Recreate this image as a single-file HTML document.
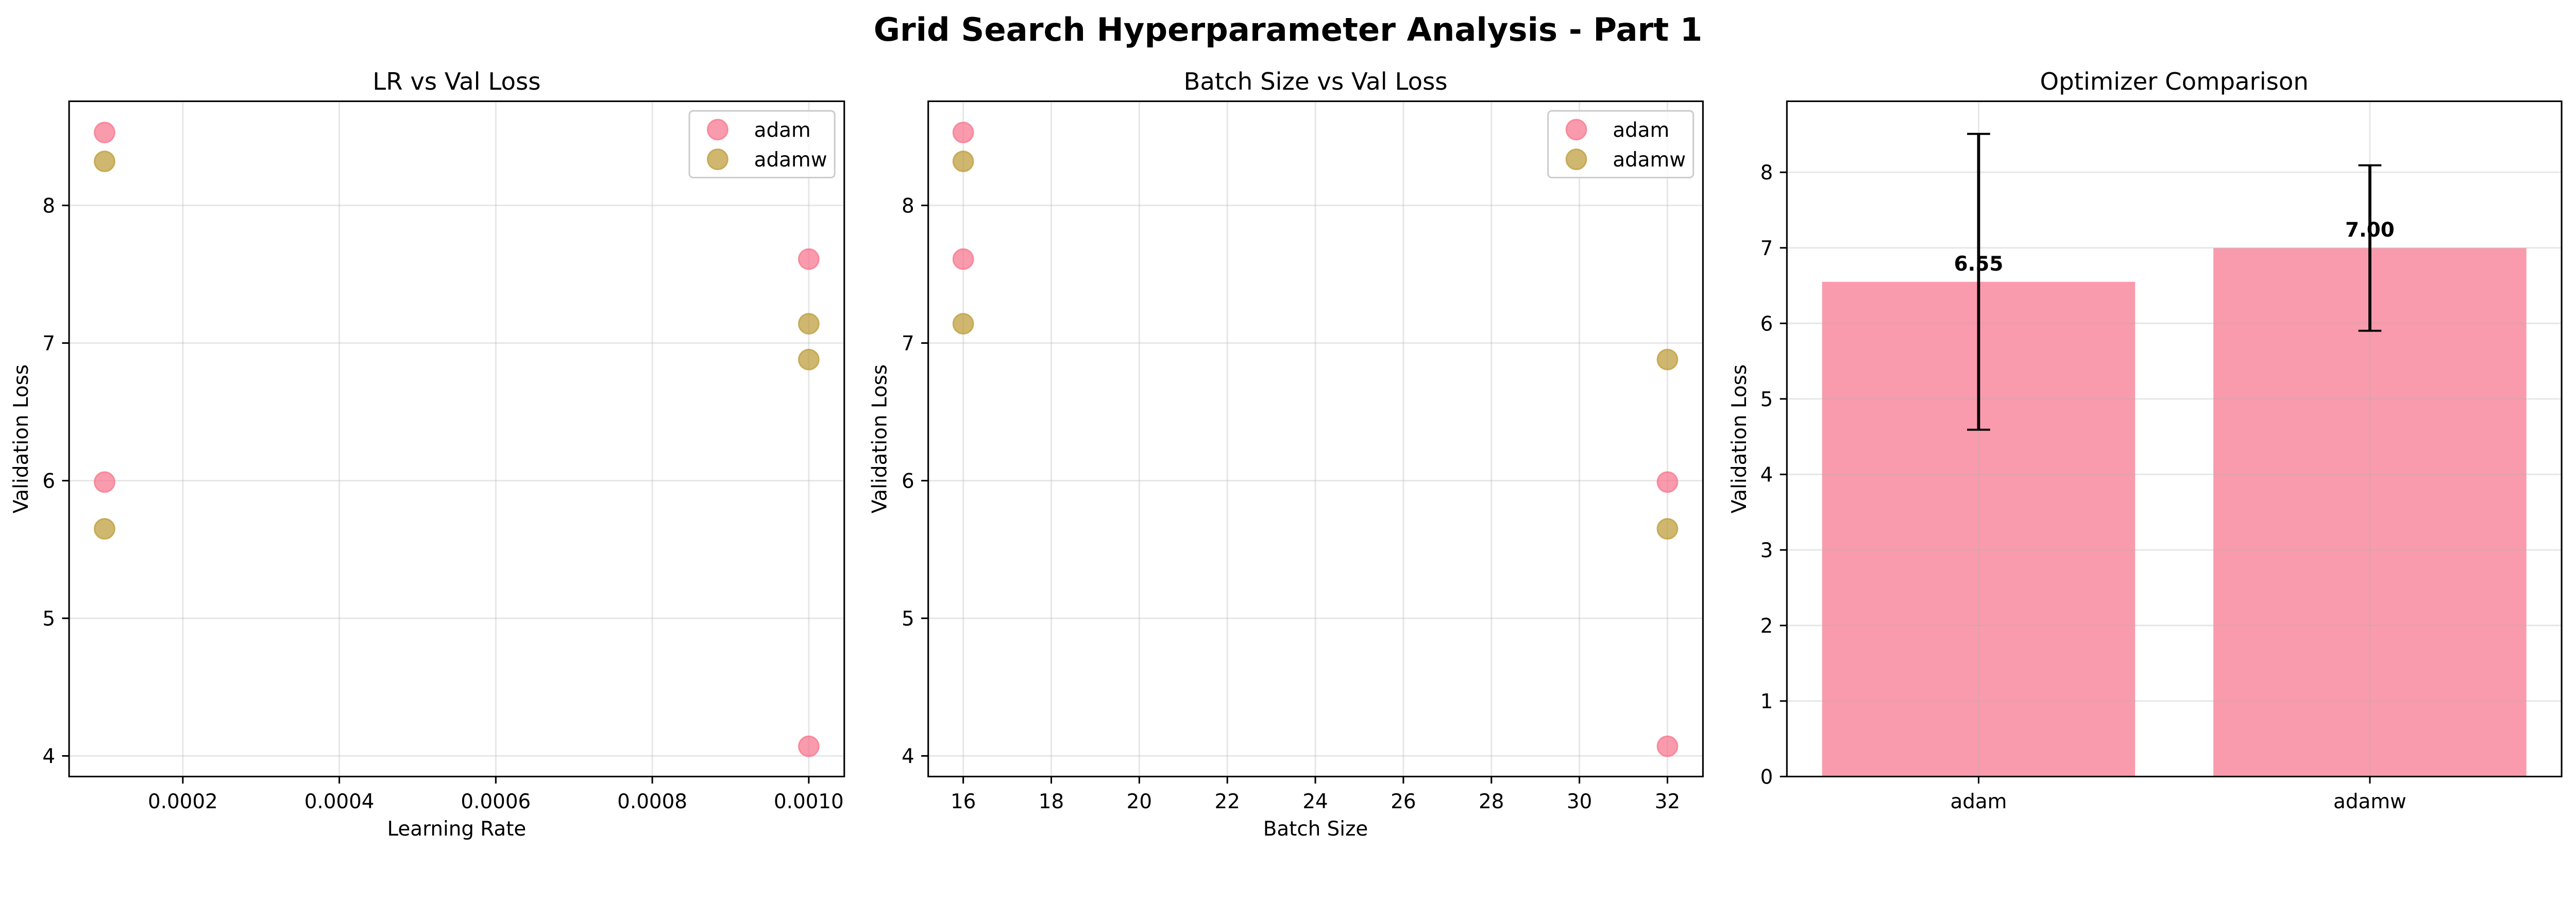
<!DOCTYPE html>
<html><head><meta charset="utf-8"><style>
html,body{margin:0;padding:0;background:#fff;width:100%;overflow:hidden;}
svg{display:block;width:100vw;height:auto;font-family:"DejaVu Sans","Liberation Sans",sans-serif;}
</style></head><body>
<svg id="fig" viewBox="0 0 5370 1779" preserveAspectRatio="xMidYMin meet" xmlns="http://www.w3.org/2000/svg">
<rect width="5370" height="1779" fill="#fff"/>
<text x="2685" y="85" font-size="67" font-weight="bold" text-anchor="middle">Grid Search Hyperparameter Analysis - Part 1</text>
</svg>
<script>
const optimizers = ["adam","adamw"];
const adamLR = [0.0001, 0.001, 0.0001, 0.001];
const adamBS = [16, 16, 32, 32];
const adamLoss = [8.53, 7.61, 5.99, 4.07];
const adamwLR = [0.0001, 0.001, 0.001, 0.0001];
const adamwBS = [16, 16, 32, 32];
const adamwLoss = [8.32, 7.14, 6.88, 5.65];
const lrTicks = [0.0002, 0.0004, 0.0006, 0.0008, 0.0010];
const lrTickLabels = ["0.0002","0.0004","0.0006","0.0008","0.0010"];
const bsTicks = [16,18,20,22,24,26,28,30,32];
const lossTicks = [4,5,6,7,8];
const barTicks = [0,1,2,3,4,5,6,7,8];

const NS="http://www.w3.org/2000/svg";
const svg=document.getElementById('fig');
function mk(tag,attrs,parent,text){const e=document.createElementNS(NS,tag);for(const k in attrs)e.setAttribute(k,attrs[k]);if(text!==undefined)e.textContent=text;(parent||svg).appendChild(e);return e;}
const colors={adam:"#f77189",adamw:"#bb9832"};
const TOP=211,BOT=1618;

function scaleLin(d0,d1,r0,r1){return v=>r0+(v-d0)/(d1-d0)*(r1-r0);}

function axesFrame(g,L,R,name){
  const s=mk('rect',{x:L,y:TOP,width:R-L,height:BOT-TOP,fill:'none',stroke:'#000','stroke-width':3.3},g);
  
  
}
function yAxis(g,L,R,sy,ticks,labels){
  ticks.forEach((t,i)=>{const y=sy(t);
    const gl=mk('line',{x1:L,x2:R,y1:y,y2:y,stroke:'#b0b0b0','stroke-opacity':0.3,'stroke-width':3.3},g);
    
    
    mk('line',{x1:L-14.6,x2:L,y1:y,y2:y,stroke:'#000','stroke-width':3.3},g);
    const tl=mk('text',{x:L-29,y:y+15,'font-size':41.7,'text-anchor':'end'},g,labels?labels[i]:String(t));
    
    
  });
}
function xAxis(g,sx,ticks,labels){
  ticks.forEach((t,i)=>{const x=sx(t);
    const gl=mk('line',{x1:x,x2:x,y1:TOP,y2:BOT,stroke:'#b0b0b0','stroke-opacity':0.3,'stroke-width':3.3},g);
    
    
    mk('line',{x1:x,x2:x,y1:BOT,y2:BOT+14.6,stroke:'#000','stroke-width':3.3},g);
    const tl=mk('text',{x:x,y:1684,'font-size':41.7,'text-anchor':'middle'},g,labels?labels[i]:String(t));
    
    
  });
}
function labels(g,L,R,title,xl,ylx){
  const t=mk('text',{x:(L+R)/2,y:187,'font-size':50,'text-anchor':'middle'},g,title);
  
  
  if(xl){const x=mk('text',{x:(L+R)/2,y:1741,'font-size':41.7,'text-anchor':'middle'},g,xl);
    
    }
  const y=mk('text',{x:0,y:0,'font-size':41.7,'text-anchor':'middle',transform:`translate(${ylx},${(TOP+BOT)/2}) rotate(-90)`},g,'Validation Loss');
  
  
}
function points(g,sx,sy,xs,ys,opt){
  xs.forEach((xv,i)=>{
    const c=mk('circle',{cx:sx(xv),cy:sy(ys[i]),r:21,fill:colors[opt],'fill-opacity':0.7,stroke:colors[opt],'stroke-opacity':0.7,'stroke-width':3},g);
    
    
  });
}
function legend(g,R){
  const x0=R-323;
  const box=mk('rect',{x:x0,y:231,width:303,height:139,rx:8,fill:'#fff','fill-opacity':0.8,stroke:'#cccccc','stroke-width':3.3},g);
  
  
  optimizers.forEach((o,i)=>{
    const y=270+i*62;
    const m=mk('circle',{cx:x0+59,cy:y,r:21,fill:colors[o],'fill-opacity':0.7,stroke:colors[o],'stroke-opacity':0.7,'stroke-width':3},g);
    
    
    const t=mk('text',{x:x0+135,y:y+15,'font-size':41.7},g,o);
    
    
  });
}
const syLoss=scaleLin(4,8,1575,428);

// Panel 1
{const g=mk('g',{});
 const L=144,R=1760;const sx=scaleLin(0.0001,0.001,218,1686);
 yAxis(g,L,R,syLoss,lossTicks);xAxis(g,sx,lrTicks,lrTickLabels);
 points(g,sx,syLoss,adamLR,adamLoss,'adam');points(g,sx,syLoss,adamwLR,adamwLoss,'adamw');
 axesFrame(g,L,R,'lr-panel');legend(g,R);labels(g,L,R,'LR vs Val Loss','Learning Rate',58);}
// Panel 2
{const g=mk('g',{});
 const L=1935,R=3550;const sx=scaleLin(16,32,2008,3476);
 yAxis(g,L,R,syLoss,lossTicks);xAxis(g,sx,bsTicks);
 points(g,sx,syLoss,adamBS,adamLoss,'adam');points(g,sx,syLoss,adamwBS,adamwLoss,'adamw');
 axesFrame(g,L,R,'bs-panel');legend(g,R);labels(g,L,R,'Batch Size vs Val Loss','Batch Size',1848);}
// Panel 3
{const g=mk('g',{});
 const L=3725,R=5340;const sx=scaleLin(-0.49,1.49,L,R);const sy=scaleLin(0,8,1618,359);
 const sets=[adamLoss,adamwLoss];
 const means=sets.map(a=>a.reduce((s,v)=>s+v,0)/a.length);
 const stds=sets.map((a,i)=>Math.sqrt(a.reduce((s,v)=>s+(v-means[i])**2,0)/(a.length-1)));
 optimizers.forEach((o,i)=>{
  const b=mk('rect',{x:sx(i-0.4),y:sy(means[i]),width:sx(i+0.4)-sx(i-0.4),height:sy(0)-sy(means[i]),fill:'#f77189','fill-opacity':0.7},g);
  
  
 });
 yAxis(g,L,R,sy,barTicks);
 xAxis(g,sx,[0,1],optimizers);
 optimizers.forEach((o,i)=>{
  const x=sx(i),y1=sy(means[i]+stds[i]),y2=sy(means[i]-stds[i]);
  const e=mk('g',{},g);
  
  
  mk('line',{x1:x,x2:x,y1:y1,y2:y2,stroke:'#000','stroke-width':6.2},e);
  mk('line',{x1:x-24,x2:x+24,y1:y1,y2:y1,stroke:'#000','stroke-width':4.2},e);
  mk('line',{x1:x-24,x2:x+24,y1:y2,y2:y2,stroke:'#000','stroke-width':4.2},e);
  const t=mk('text',{x:x,y:sy(means[i]+0.15),'font-size':41.7,'font-weight':'bold','text-anchor':'middle'},g,means[i].toFixed(2));
  
  
 });
 axesFrame(g,L,R,'opt-panel');labels(g,L,R,'Optimizer Comparison',null,3640);}
</script>
</body></html>
